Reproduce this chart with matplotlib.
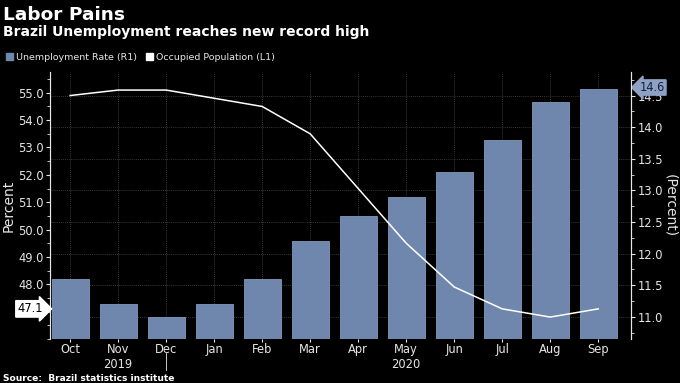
import matplotlib.pyplot as plt
from matplotlib.patches import Patch
import matplotlib.transforms as mtransforms
import numpy as np

# data
months = ['Oct', 'Nov', 'Dec', 'Jan', 'Feb', 'Mar', 'Apr', 'May', 'Jun', 'Jul', 'Aug', 'Sep']
unemployment = [11.6, 11.2, 11.0, 11.2, 11.6, 12.2, 12.6, 12.9, 13.3, 13.8, 14.4, 14.6]
occupied = [54.9, 55.1, 55.1, 54.8, 54.5, 53.5, 51.5, 49.5, 47.9, 47.1, 46.8, 47.1]
years = {'2019': 1, '2020': 7}

BG = 'black'
FG = '#e6e6e6'
BAR = '#7087ad'
GRID = '#4a4a4a'

plt.rcParams['font.family'] = ['DejaVu Sans']

fig = plt.figure(figsize=(6.8, 3.83), dpi=100, facecolor=BG)
ax2 = fig.add_axes([0.0735, 0.115, 0.855, 0.697])   # bars, right axis
ax = ax2.twinx()                                     # line, left axis
ax.yaxis.tick_left()
ax.yaxis.set_label_position('left')
ax2.yaxis.tick_right()
ax2.yaxis.set_label_position('right')
ax.set_zorder(ax2.get_zorder() + 1)
ax.patch.set_visible(False)
ax2.set_facecolor(BG)

x = np.arange(len(months))
ax2.bar(x, unemployment, width=0.77, color=BAR, edgecolor='#8299bd', linewidth=0.6, zorder=2)
ax.plot(x, occupied, color='white', linewidth=1.1, zorder=3)

ax2.set_xlim(-0.42, 11.69)
ax.set_ylim(46.0, 55.76)
ax2.set_ylim(10.65, 14.875)

ax.set_yticks(np.arange(48, 55.1, 1.0))
ax.set_yticks(np.arange(46, 55.8, 0.5), minor=True)
ax.set_yticklabels(['%.1f' % v for v in np.arange(48, 55.1, 1.0)])
ax2.set_yticks(np.arange(11.0, 14.6, 0.5))
ax2.set_yticks(np.arange(10.75, 14.9, 0.25), minor=True)
ax2.set_yticklabels(['%.1f' % v for v in np.arange(11.0, 14.6, 0.5)])

ax2.set_xticks(x)
ax2.set_xticklabels(months)

# grid: horizontal from right axis, vertical at months
ax2.set_axisbelow(True)
ax2.grid(True, axis='both', color=GRID, linestyle=(0, (1, 1.5)), linewidth=0.6, zorder=0)

for a in (ax, ax2):
    for s in ('top', 'bottom'):
        a.spines[s].set_visible(False)
    a.spines['left'].set_color(FG)
    a.spines['right'].set_color(FG)
    a.tick_params(colors=FG, labelsize=8.3, width=0.8)
ax.tick_params(axis='y', which='major', length=3, pad=1.5)
ax.tick_params(axis='y', which='minor', length=2, color=FG)
ax2.tick_params(axis='y', which='major', length=3, pad=1.5)
ax2.tick_params(axis='y', which='minor', length=2, color=FG)
ax2.tick_params(axis='x', length=2, pad=1)

ax.set_ylabel('Percent', color=FG, fontsize=10, labelpad=2)
ax2.set_ylabel('(Percent)', color=FG, fontsize=10, rotation=270, labelpad=10)

# year row under the month labels
blend = mtransforms.blended_transform_factory(ax2.transData, ax2.transAxes)
for yr, pos in years.items():
    ax2.text(pos, -0.096, yr, transform=blend, ha='center', va='center', color=FG, fontsize=8.3)
ax2.plot([2, 2], [-0.052, -0.116], color=FG, linewidth=0.6, clip_on=False, transform=blend)

# last value labels
ax.text(-0.012, occupied[-1], '%.1f' % occupied[-1],
        transform=mtransforms.blended_transform_factory(ax.transAxes, ax.transData),
        ha='right', va='center', fontsize=8.3, color='black',
        bbox=dict(boxstyle='rarrow,pad=0.15', fc='white', ec='white'))
ax2.text(1.014, unemployment[-1] + 0.03, '%.1f' % unemployment[-1],
         transform=mtransforms.blended_transform_factory(ax2.transAxes, ax2.transData),
         ha='left', va='center', fontsize=8.3, color='#15203a', zorder=5,
         bbox=dict(boxstyle='larrow,pad=0.1', fc='#8da1c4', ec='#8da1c4'))

# titles, legend, source
fig.text(0.004, 0.985, 'Labor Pains', color='white', fontsize=13.3, fontweight='bold', va='top')
fig.text(0.004, 0.935, 'Brazil Unemployment reaches new record high', color='white',
         fontsize=10, fontweight='bold', va='top')
handles = [Patch(facecolor=BAR, edgecolor=BAR), Patch(facecolor='white', edgecolor='white')]
leg = fig.legend(handles, ['Unemployment Rate (R1)', 'Occupied Population (L1)'],
                 loc='center left', bbox_to_anchor=(-0.004, 0.851), ncol=2, frameon=False,
                 fontsize=6.8, handlelength=0.75, handleheight=0.75, handletextpad=0.3,
                 columnspacing=1.0)
for t in leg.get_texts():
    t.set_color(FG)
fig.text(0.004, 0.012, 'Source:  Brazil statistics institute', color='white', fontsize=6.6,
         fontweight='bold', va='center')

fig.savefig('out.png', dpi=100, facecolor=BG)
